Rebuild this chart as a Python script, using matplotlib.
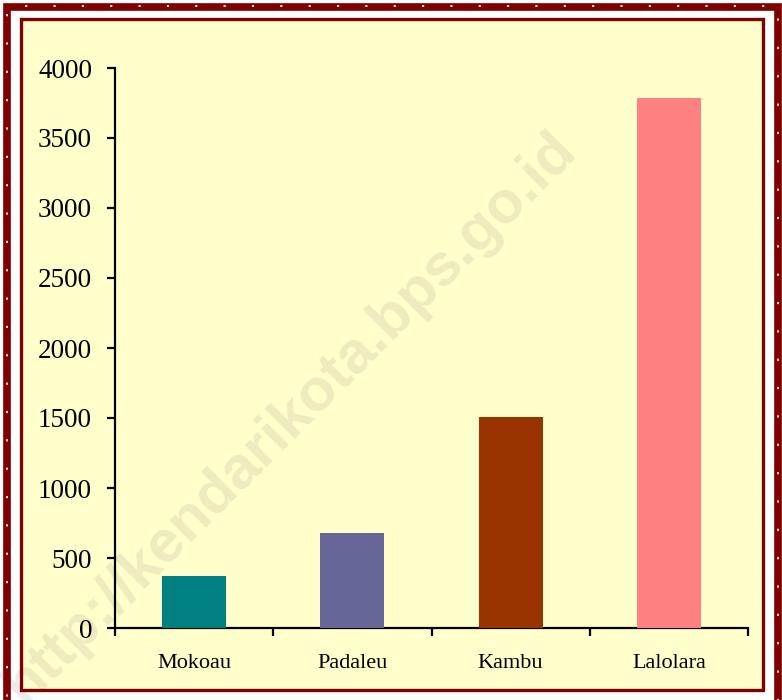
import matplotlib.pyplot as plt
from matplotlib.patches import Rectangle

# data
villages = ['Mokoau', 'Padaleu', 'Kambu', 'Lalolara']
values = [370, 680, 1505, 3785]
colors = ['#008080', '#666699', '#993300', '#FF8080']

W, H = 782, 700
fig = plt.figure(figsize=(W / 100, H / 100), dpi=100)
fig.patch.set_facecolor('white')

def px_rect(x0, y0, x1, y1, **kw):
    # rectangle given in pixel coords (origin top-left)
    return Rectangle((x0 / W, 1 - y1 / H), (x1 - x0) / W, (y1 - y0) / H,
                     transform=fig.transFigure, **kw)

# outer dotted border
fig.patches.append(px_rect(6.5, 6.5, 778, 704, facecolor='none', edgecolor='#800000', linewidth=5.5, zorder=4))
fig.patches.append(px_rect(6.5, 5.5, 778, 704, facecolor='none', edgecolor='white', linewidth=1.3,
                           linestyle=(0, (1.2, 14.5)), zorder=4.1))
# inner panel
fig.patches.append(px_rect(21, 19, 763, 690, facecolor='#FFFFCC', edgecolor='none', zorder=0))
fig.patches.append(px_rect(21, 19, 763, 690, facecolor='none', edgecolor='#800000', linewidth=2.4, zorder=4))

# watermark
fig.text(578 / W, 1 - 152 / H, 'http://kendarikota.bps.go.id', rotation=45, rotation_mode='anchor',
         ha='right', va='baseline', fontsize=43, fontweight='bold', family='Liberation Sans',
         color='#715857', alpha=0.12, zorder=3)

ax = fig.add_axes([115 / W, 1 - 628 / H, (748 - 115) / W, (628 - 68) / H])
ax.set_facecolor('none')
ax.set_zorder(5)

x = list(range(len(villages)))
ax.bar(x, values, width=0.405, color=colors, zorder=3)

ax.set_xlim(-0.5, len(villages) - 0.5)
ax.set_ylim(0, 4000)
ax.set_yticks(range(0, 4001, 500))
ax.set_xticks([i - 0.5 for i in range(len(villages) + 1)])
ax.set_xticklabels([])
ax.set_xticks(x, minor=True)
ax.set_xticklabels(villages, minor=True)

for s in ['top', 'right']:
    ax.spines[s].set_visible(False)
for s in ['left', 'bottom']:
    ax.spines[s].set_linewidth(1.6)
    ax.spines[s].set_color('black')

ax.tick_params(axis='y', direction='out', length=5.5, width=1.6, pad=11, labelsize=19.5)
ax.tick_params(axis='x', which='major', direction='out', length=5.5, width=1.6)
ax.tick_params(axis='x', which='minor', length=0, pad=19, labelsize=16)
for lab in ax.get_yticklabels() + ax.get_xticklabels(minor=True):
    lab.set_family('Liberation Serif')

fig.savefig('out.png', dpi=100)
